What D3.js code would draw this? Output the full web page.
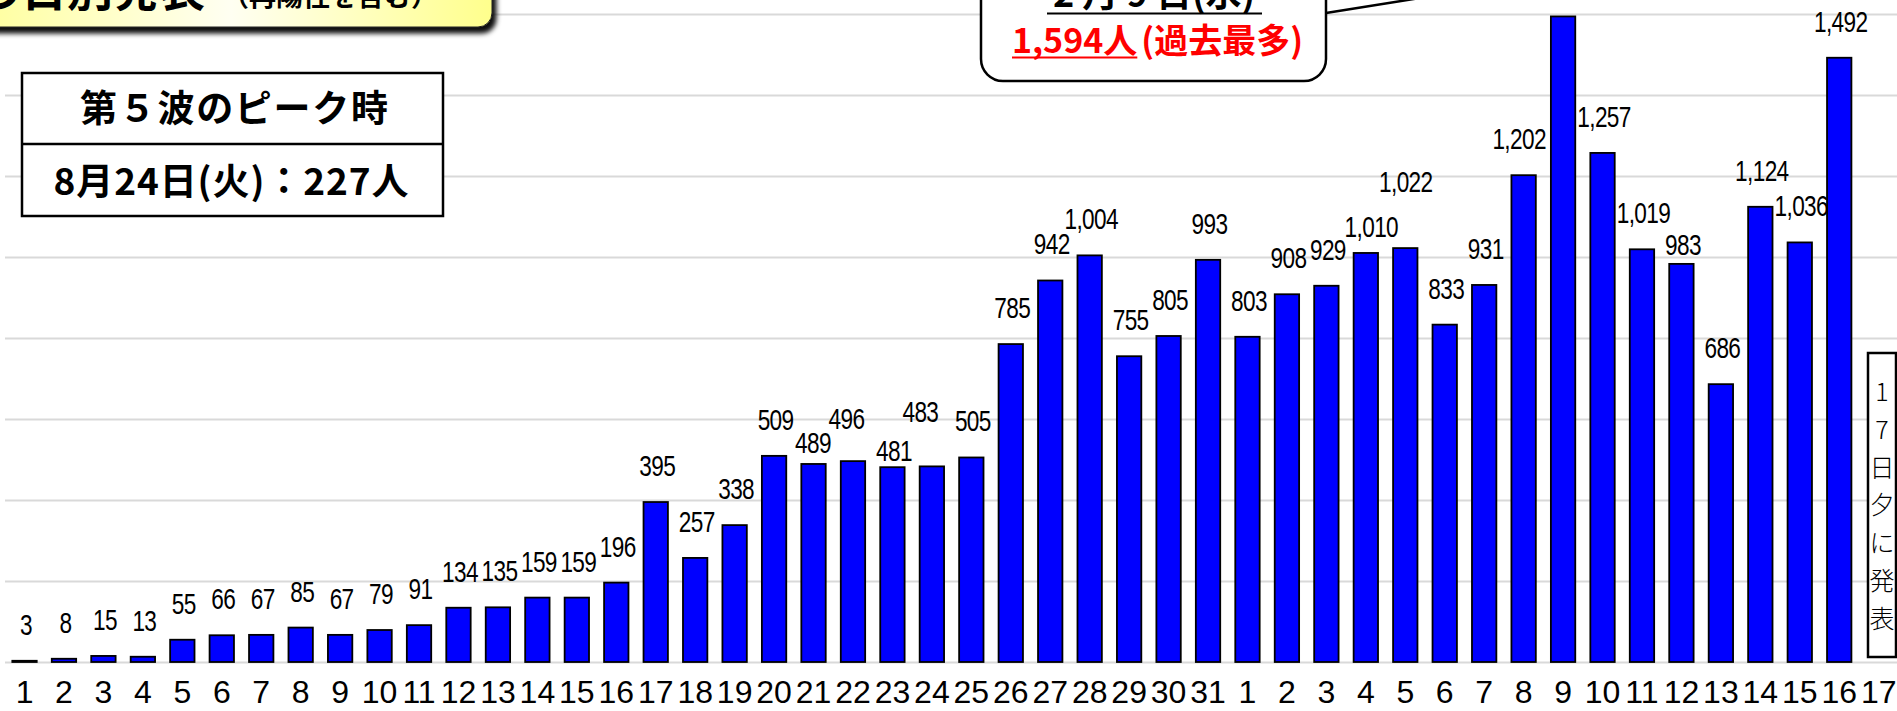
<!DOCTYPE html>
<html><head><meta charset="utf-8">
<script src="https://cdn.jsdelivr.net/npm/d3@7"></script>
<style>body{margin:0;background:#fff;overflow:hidden} svg{display:block}</style>
</head><body>
<svg id="chart" width="1897" height="711"></svg>
<script>
// ---- data ----
const dayLabels = ["1","2","3","4","5","6","7","8","9","10","11","12","13","14","15","16","17","18","19","20","21","22","23","24","25","26","27","28","29","30","31",
                   "1","2","3","4","5","6","7","8","9","10","11","12","13","14","15","16","17"];
const cases = [3,8,15,13,55,66,67,85,67,79,91,134,135,159,159,196,395,257,338,509,489,496,481,483,505,785,942,1004,755,805,993,
               803,908,929,1010,1022,833,931,1202,1594,1257,1019,983,686,1124,1036,1492,null];
const gridTicks = [0,200,400,600,800,1000,1200,1400,1600];
const titleMain = "陽性者数の日別発表";
const titleSub = "（再陽性を含む）";
const peakBoxLines = ["第５波のピーク時","8月24日(火)：227人"];
const calloutDate = "2 月 9 日(水)";
const calloutValue = "1,594人";
const calloutNote = "(過去最多)";
const pendingChars = ["1","7","日","夕","に","発","表"];
const highlightIndex = 39;   // 2/9 labelled by the callout instead
const pendingIndex = 47;     // 2/17 not yet published

// manual label nudges [dx, dy] as in the original
const labelNudge = {20:[-2,15],21:[-8,-6],22:[0,20],23:[-13,-18],34:[4,10],35:[-1,-30],38:[-6,0],42:[0,17]};

const W = 1897, H = 711;
const svg = d3.select("#chart");
const x = d3.scaleBand().domain(d3.range(dayLabels.length)).range([4.8, 1898.4]).paddingInner(0.382).paddingOuter(0.191);
const y = d3.scaleLinear().domain([0,1600]).range([662,14]);

// gridlines
const grid = svg.append("g").attr("transform","translate(5,0)")
  .call(d3.axisRight(y).tickValues(gridTicks).tickSize(W-5).tickFormat(""));
grid.select(".domain").remove();
grid.selectAll("line").attr("stroke","#d9d9d9").attr("stroke-width",2);

// bars
const data = cases.map((v,i)=>({i,v})).filter(d=>d.v!=null);
svg.append("g").selectAll("rect").data(data).join("rect")
  .attr("x",d=>x(d.i)).attr("width",x.bandwidth())
  .attr("y",d=>y(d.v)).attr("height",d=>y(0)-y(d.v))
  .attr("fill","#0000ff").attr("stroke","#000").attr("stroke-width",1.8);

// value labels (condensed)
const fmt = d3.format(",");
svg.append("g").selectAll("text").data(data.filter(d=>d.i!==highlightIndex)).join("text")
  .attr("transform",d=>{
    const n = labelNudge[d.i]||[0,0];
    return `translate(${x(d.i)+x.bandwidth()/2+1.5+n[0]},${y(d.v)-26+n[1]}) scale(0.78,1)`;
  })
  .attr("text-anchor","middle")
  .style("font-family","'Liberation Sans',Arial,sans-serif")
  .style("font-size","29px").style("letter-spacing","-0.8px").attr("fill","#000")
  .text(d=>fmt(d.v));

// x axis labels
const xa = svg.append("g").attr("transform","translate(0,662)")
  .call(d3.axisBottom(x).tickSize(0).tickPadding(18).tickFormat(i=>dayLabels[i]));
xa.select(".domain").remove();
xa.selectAll("text").style("font-family","'Liberation Sans',Arial,sans-serif").style("font-size","32px").attr("fill","#000");

// defs: gradient + shadow
const defs = svg.append("defs");
const g1 = defs.append("linearGradient").attr("id","tg").attr("x1","0").attr("x2","1");
g1.append("stop").attr("offset","0%").attr("stop-color","#ffff9a");
g1.append("stop").attr("offset","50%").attr("stop-color","#fffff2");
g1.append("stop").attr("offset","100%").attr("stop-color","#ffff8c");
const f = defs.append("filter").attr("id","sh").attr("x","-10%").attr("y","-10%").attr("width","130%").attr("height","150%");
f.append("feDropShadow").attr("dx",4).attr("dy",6).attr("stdDeviation",2.5).attr("flood-color","#000").attr("flood-opacity",0.95);

// title box (cut off at top)
svg.append("rect").attr("x",-30).attr("y",-90).attr("width",522).attr("height",117).attr("rx",14)
  .attr("fill","url(#tg)").attr("stroke","#222").attr("stroke-width",1).attr("filter","url(#sh)");
svg.append("text").attr("x",205).attr("y",6).attr("text-anchor","end")
  .style("font-family","'Noto Sans CJK JP',sans-serif").style("font-weight",700).style("font-size","46px").text(titleMain);
svg.append("text").attr("x",222).attr("y",6)
  .style("font-family","'Noto Sans CJK JP',sans-serif").style("font-weight",700).style("font-size","27px").text(titleSub);

// peak box
const pb = svg.append("g");
pb.append("rect").attr("x",22).attr("y",73).attr("width",421).attr("height",143).attr("fill","#fff").attr("stroke","#000").attr("stroke-width",2.5);
pb.append("line").attr("x1",22).attr("x2",443).attr("y1",144).attr("y2",144).attr("stroke","#000").attr("stroke-width",2.5);
pb.append("text").attr("x",234).attr("y",122).attr("text-anchor","middle").attr("textLength",308).attr("lengthAdjust","spacing")
  .style("font-family","'Noto Sans CJK JP',sans-serif").style("font-weight",700).style("font-size","37px").text(peakBoxLines[0]);
pb.append("text").attr("x",231).attr("y",195).attr("text-anchor","middle").attr("textLength",355).attr("lengthAdjust","spacing")
  .style("font-family","'Noto Sans CJK JP',sans-serif").style("font-weight",700).style("font-size","37px").text(peakBoxLines[1]);

// callout for 2/9
const cb = svg.append("g");
cb.append("line").attr("x1",1326).attr("y1",13).attr("x2",1420).attr("y2",-2).attr("stroke","#000").attr("stroke-width",2.5);
cb.append("rect").attr("x",981).attr("y",-80).attr("width",345).attr("height",161).attr("rx",22)
  .attr("fill","#fff").attr("stroke","#000").attr("stroke-width",2.5);
cb.append("text").attr("x",1154).attr("y",7).attr("text-anchor","middle")
  .style("font-family","'Noto Sans CJK JP',sans-serif").style("font-weight",700).style("font-size","36px").text(calloutDate);
cb.append("line").attr("x1",1047).attr("x2",1262).attr("y1",13.5).attr("y2",13.5).attr("stroke","#000").attr("stroke-width",2);
const cv = cb.append("text").attr("x",1012).attr("y",53).attr("fill","#ff0000")
  .style("font-family","'Noto Sans CJK JP',sans-serif").style("font-weight",700).style("font-size","34px");
const t1 = cv.append("tspan").text(calloutValue);
cv.append("tspan").attr("dx",4).text(calloutNote);
const vlen = t1.node().getComputedTextLength();
cb.append("line").attr("x1",1012).attr("x2",1012+vlen).attr("y1",57.5).attr("y2",57.5).attr("stroke","#ff0000").attr("stroke-width",2);

// pending note box (2/17)
const nb = svg.append("g");
nb.append("rect").attr("x",1868).attr("y",353).attr("width",28).attr("height",304).attr("fill","#fff").attr("stroke","#000").attr("stroke-width",2.5);
nb.selectAll("text").data(pendingChars).join("text")
  .attr("x",1882).attr("y",(d,i)=>390+i*37.8).attr("text-anchor","middle").attr("dominant-baseline","central")
  .style("font-family","'Noto Sans CJK JP',sans-serif").style("font-size","25px").style("font-weight",300).text(d=>d);
</script>
</body></html>
